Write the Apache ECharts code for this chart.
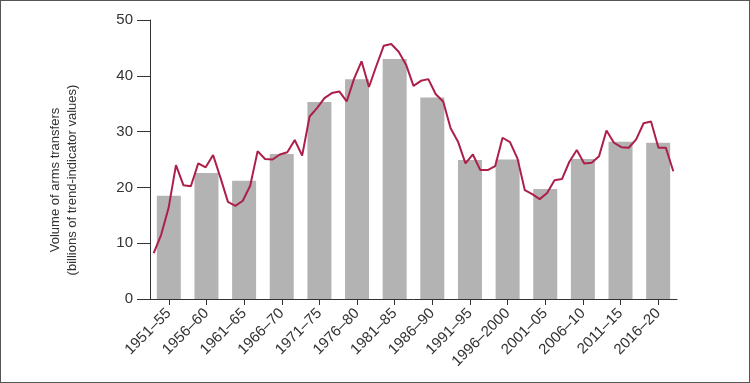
<!DOCTYPE html>
<html>
<head>
<meta charset="utf-8">
<script src="https://cdn.jsdelivr.net/npm/echarts@6/dist/echarts.min.js"></script>
<style>
html,body{margin:0;padding:0;background:#fff;}
#chart{width:750px;height:383px;box-sizing:border-box;border:1px solid #555;}
</style>
</head>
<body>
<div id="chart"></div>
<script>
const periods = ['1951–55','1956–60','1961–65','1966–70','1971–75','1976–80','1981–85','1986–90','1991–95','1996–2000','2001–05','2006–10','2011–15','2016–20'];
const periodValues = [18.5,22.6,21.2,26.0,35.3,39.4,43.0,36.1,24.9,25.0,19.7,25.1,28.2,28.0];
const years = [];
for (let y = 1950; y <= 2020; y++) years.push(String(y));
const annualValues = [8.2,11.5,16.3,24.0,20.4,20.2,24.3,23.6,25.8,21.7,
  17.4,16.7,17.6,20.3,26.5,25.1,25.0,25.9,26.3,28.5,
  25.7,32.7,34.2,36.0,36.9,37.2,35.4,39.5,42.6,38.0,
  41.8,45.4,45.7,44.3,42.0,38.2,39.1,39.4,36.7,35.4,
  30.6,28.2,24.3,25.9,23.1,23.1,23.8,28.9,28.1,25.2,
  19.5,18.8,17.9,19.0,21.3,21.5,24.6,26.7,24.3,24.4,
  25.6,30.2,28.0,27.2,27.1,28.6,31.5,31.8,27.1,27.1,22.9];
const yTicks = [0,10,20,30,40,50];
const yTitle = ['Volume of arms transfers','(billions of trend-indicator values)'];

const chart = echarts.init(document.getElementById('chart'), null, {renderer:'canvas'});
const txt = '#333';
const ff = 'Liberation Sans, Arial, sans-serif';
chart.setOption({
  animation:false,
  backgroundColor:'#fff',
  textStyle:{fontFamily:ff},
  grid:{left:149,right:72,top:19,bottom:83,containLabel:false},
  xAxis:[{
    type:'category', data:periods, boundaryGap:true,
    axisLine:{show:true,lineStyle:{color:txt,width:1}},
    axisTick:{show:true,alignWithLabel:true,length:6,lineStyle:{color:txt}},
    axisLabel:{rotate:45,fontSize:15,color:txt,margin:12,interval:0,fontFamily:ff}
  },{
    type:'category', data:years, boundaryGap:true, show:false
  }],
  yAxis:{
    type:'value', min:yTicks[0], max:yTicks[yTicks.length-1], interval:10,
    splitLine:{show:false},
    axisLine:{show:true,lineStyle:{color:txt,width:1}},
    axisTick:{show:true,length:13,lineStyle:{color:txt}},
    axisLabel:{fontSize:15,color:txt,margin:17,fontFamily:ff}
  },
  graphic:[{
    type:'text', x:63, y:179, rotation:Math.PI/2,
    style:{text:yTitle.join('\n'), textAlign:'center', textVerticalAlign:'middle',
      fontSize:13, lineHeight:17, fill:txt, fontFamily:ff}
  }],
  series:[{
    type:'bar', data:periodValues, xAxisIndex:0, barWidth:24,
    itemStyle:{color:'#b3b3b3'}, z:1
  },{
    type:'line', data:annualValues, xAxisIndex:1, symbol:'none',
    lineStyle:{color:'#ad1f48',width:2}, z:3
  }]
});
</script>
</body>
</html>
